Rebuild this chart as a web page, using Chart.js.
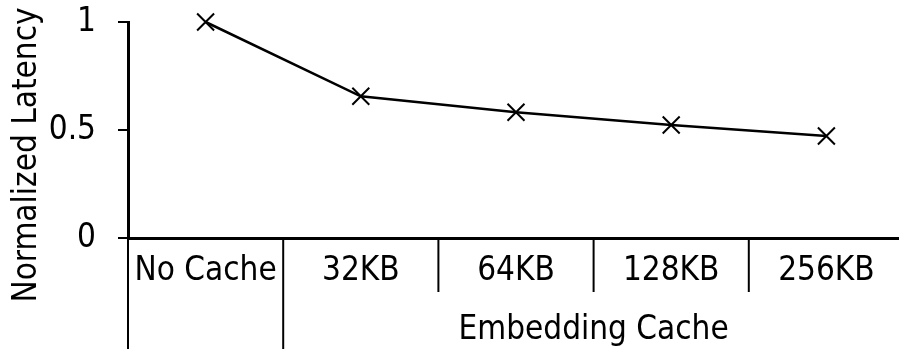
<!DOCTYPE html>
<html>
<head>
<meta charset="utf-8">
<script src="https://cdn.jsdelivr.net/npm/chart.js@4/dist/chart.umd.min.js"></script>
<style>
  html, body { margin: 0; padding: 0; background: #fff; overflow: hidden; }
  #wrap { width: 899px; height: 349px; overflow: hidden; position: relative; }
  canvas { display: block; }
</style>
</head>
<body>
<div id="wrap"><canvas id="c" width="904" height="349" style="width:904px;height:349px"></canvas></div>
<script>
// ---- data ----
const categories = ['No Cache', '32KB', '64KB', '128KB', '256KB'];
const latency = [1.0, 0.656, 0.582, 0.523, 0.472];
const yTicks = [0, 0.5, 1];
const yTickLabels = ['0', '0.5', '1'];
const groupNames = ['', 'Embedding Cache'];
const groupSizes = [1, 4];
const yTitle = 'Normalized Latency';

const FONT = "'DejaVu Sans Condensed', 'DejaVu Sans', sans-serif";
const FS = 33;

const groupPlugin = {
  id: 'groups',
  afterDraw(chart) {
    const ctx = chart.ctx;
    const xs = chart.scales.x;
    const area = chart.chartArea;
    const H = chart.height;
    const half = (xs.getPixelForValue(1) - xs.getPixelForValue(0)) / 2;
    ctx.save();
    ctx.fillStyle = '#000';
    ctx.strokeStyle = '#000';
    ctx.font = FS + 'px ' + FONT;
    ctx.textAlign = 'center';
    ctx.textBaseline = 'middle';
    // category labels
    categories.forEach((c, i) => {
      ctx.fillText(c, xs.getPixelForValue(i), area.bottom + 33);
    });
    // separators and group labels
    let start = 0;
    ctx.lineWidth = 2;
    groupSizes.forEach((n, g) => {
      const left = xs.getPixelForValue(start) - half;
      const right = xs.getPixelForValue(start + n - 1) + half;
      ctx.beginPath();
      ctx.moveTo(left, area.bottom);
      ctx.lineTo(left, H);
      ctx.stroke();
      for (let k = 1; k < n; k++) {
        const bx = xs.getPixelForValue(start + k) - half;
        ctx.beginPath();
        ctx.moveTo(bx, area.bottom);
        ctx.lineTo(bx, area.bottom + 54);
        ctx.stroke();
      }
      if (groupNames[g]) {
        ctx.fillText(groupNames[g], (left + right) / 2, area.bottom + 92);
      }
      start += n;
    });
    // y title
    ctx.save();
    ctx.translate(27, 155);
    ctx.rotate(-Math.PI / 2);
    ctx.fillText(yTitle, 0, 0);
    ctx.restore();
    ctx.restore();
  }
};

new Chart(document.getElementById('c'), {
  type: 'line',
  data: {
    labels: categories,
    datasets: [{
      data: latency,
      borderColor: '#000',
      borderWidth: 2.5,
      pointStyle: 'crossRot',
      pointRadius: 12,
      pointBorderWidth: 2,
      pointBorderColor: '#000',
      pointBackgroundColor: '#000',
      tension: 0,
      clip: false
    }]
  },
  options: {
    responsive: false,
    animation: false,
    layout: { autoPadding: false, padding: { top: 22, right: 0, left: 0, bottom: 0 } },
    plugins: { legend: { display: false }, tooltip: { enabled: false } },
    scales: {
      x: {
        type: 'category',
        offset: true,
        grid: { display: false },
        border: { display: true, color: '#000', width: 3 },
        ticks: { display: false },
        afterFit(s) { s.height = 111; s.paddingLeft = 0; s.paddingRight = 0; }
      },
      y: {
        min: 0,
        max: 1,
        afterBuildTicks(s) { s.ticks = yTicks.map(v => ({ value: v })); },
        afterFit(s) { s.width = 128; s.paddingTop = 0; s.paddingBottom = 0; },
        grid: { drawOnChartArea: false, drawTicks: true, tickLength: 10, color: '#000', lineWidth: 2 },
        border: { display: true, color: '#000', width: 3 },
        ticks: {
          padding: 22,
          color: '#000',
          font: { family: FONT, size: FS },
          callback: (v, i) => yTickLabels[i]
        }
      }
    }
  },
  plugins: [groupPlugin]
});
</script>
</body>
</html>
